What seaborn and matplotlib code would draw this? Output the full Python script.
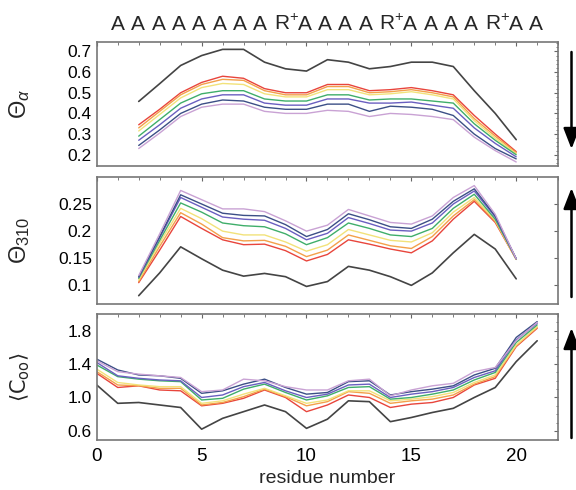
import numpy as np
import pandas as pd
import matplotlib
matplotlib.use('Agg')
import matplotlib.pyplot as plt
from matplotlib.ticker import MultipleLocator, NullLocator
from matplotlib.patches import FancyArrowPatch
import seaborn as sns

# residue positions
x_helix = list(range(2, 21))
x_coo = list(range(0, 22))

series_names = ['red', 'orange', 'yellow', 'green', 'purple', 'dkblue', 'plum', 'black']
palette = {'red': '#e8453c', 'orange': '#f3a04a', 'yellow': '#f2e27a', 'green': '#3fae6a',
           'purple': '#6a5fc0', 'dkblue': '#3c4f86', 'plum': '#c9a2d4', 'black': '#444444'}

# Theta alpha
alpha_red = [.345, .42, .50, .55, .58, .57, .52, .50, .50, .54, .54, .51, .515, .525, .51, .49, .39, .30, .215]
alpha_orange = [.33, .41, .49, .54, .565, .56, .51, .49, .49, .53, .53, .50, .505, .515, .50, .48, .375, .29, .21]
alpha_yellow = [.315, .395, .475, .525, .545, .54, .495, .48, .48, .515, .515, .49, .495, .505, .49, .47, .365, .28, .205]
alpha_green = [.29, .37, .45, .495, .51, .51, .47, .46, .46, .49, .49, .465, .47, .47, .46, .45, .35, .27, .20]
alpha_purple = [.27, .345, .425, .47, .49, .49, .45, .44, .44, .47, .47, .45, .45, .455, .44, .425, .33, .255, .19]
alpha_dkblue = [.245, .32, .40, .445, .465, .46, .43, .42, .42, .445, .445, .41, .435, .43, .42, .39, .30, .23, .18]
alpha_plum = [.23, .305, .385, .43, .445, .445, .41, .40, .40, .415, .41, .385, .40, .395, .385, .37, .285, .22, .165]
alpha_black = [.458, .544, .632, .68, .71, .71, .648, .616, .605, .66, .648, .616, .627, .648, .648, .627, .51, .40, .273]

# Theta 3_10
t310_red = [.105, .165, .227, .205, .184, .175, .176, .164, .145, .157, .184, .176, .167, .160, .182, .222, .255, .216, .148]
t310_orange = [.107, .172, .234, .213, .188, .182, .183, .172, .153, .165, .193, .183, .173, .168, .190, .228, .258, .218, .148]
t310_yellow = [.110, .178, .242, .223, .200, .193, .193, .180, .163, .175, .203, .193, .183, .180, .197, .235, .262, .220, .148]
t310_green = [.113, .183, .252, .235, .215, .210, .208, .195, .175, .188, .215, .205, .193, .190, .205, .242, .268, .222, .149]
t310_purple = [.115, .188, .262, .244, .226, .222, .220, .205, .184, .196, .225, .214, .202, .200, .215, .250, .274, .226, .149]
t310_dkblue = [.116, .190, .267, .250, .233, .229, .228, .212, .190, .203, .232, .221, .208, .205, .222, .255, .278, .228, .149]
t310_plum = [.118, .195, .275, .258, .241, .241, .236, .219, .200, .211, .240, .228, .216, .213, .228, .262, .284, .231, .149]
t310_black = [.081, .123, .171, .149, .128, .117, .122, .116, .098, .107, .135, .128, .116, .100, .123, .160, .194, .167, .112]

# <C_oo>
coo_red = [1.29, 1.12, 1.14, 1.09, 1.08, .90, .93, .99, 1.09, 1.00, .83, .91, 1.03, 1.00, .88, .92, .94, 1.00, 1.15, 1.23, 1.61, 1.83]
coo_orange = [1.31, 1.15, 1.14, 1.11, 1.11, .91, .94, 1.01, 1.10, 1.01, .90, .95, 1.07, 1.05, .93, .96, .98, 1.03, 1.16, 1.25, 1.62, 1.84]
coo_yellow = [1.34, 1.18, 1.15, 1.13, 1.13, .93, .96, 1.04, 1.11, 1.02, .93, .97, 1.08, 1.08, .96, .98, 1.01, 1.06, 1.18, 1.27, 1.63, 1.85]
coo_green = [1.39, 1.25, 1.22, 1.20, 1.19, .97, .99, 1.10, 1.16, 1.06, .97, 1.02, 1.12, 1.13, .98, 1.00, 1.04, 1.09, 1.21, 1.30, 1.66, 1.87]
coo_purple = [1.42, 1.26, 1.23, 1.21, 1.20, 1.00, 1.03, 1.13, 1.18, 1.08, 1.00, 1.04, 1.15, 1.16, 1.00, 1.04, 1.07, 1.12, 1.24, 1.32, 1.69, 1.89]
coo_dkblue = [1.46, 1.33, 1.27, 1.26, 1.23, 1.05, 1.08, 1.16, 1.22, 1.12, 1.04, 1.06, 1.19, 1.20, 1.03, 1.07, 1.10, 1.14, 1.27, 1.35, 1.72, 1.91]
coo_plum = [1.44, 1.31, 1.28, 1.26, 1.24, 1.07, 1.09, 1.22, 1.20, 1.13, 1.09, 1.09, 1.20, 1.22, 1.02, 1.09, 1.14, 1.17, 1.31, 1.36, 1.68, 1.90]
coo_black = [1.15, .93, .94, .91, .88, .62, .75, .83, .91, .83, .63, .74, .96, .95, .71, .76, .82, .87, 1.00, 1.12, 1.43, 1.68]

# peptide sequence written above the panels
sequence = ['A'] * 8 + ['R+'] + ['A'] * 4 + ['R+'] + ['A'] * 4 + ['R+'] + ['A'] * 2


def to_long(x, columns):
    frames = []
    for name, vals in zip(series_names, columns):
        frames.append(pd.DataFrame({'residue': x, 'value': vals, 'series': name}))
    return pd.concat(frames, ignore_index=True)


df_alpha = to_long(x_helix, [alpha_red, alpha_orange, alpha_yellow, alpha_green,
                             alpha_purple, alpha_dkblue, alpha_plum, alpha_black])
df_310 = to_long(x_helix, [t310_red, t310_orange, t310_yellow, t310_green,
                           t310_purple, t310_dkblue, t310_plum, t310_black])
df_coo = to_long(x_coo, [coo_red, coo_orange, coo_yellow, coo_green,
                         coo_purple, coo_dkblue, coo_plum, coo_black])

sns.set_theme(style='white')
plt.rcParams['font.family'] = ['Liberation Sans', 'DejaVu Sans']
plt.rcParams['mathtext.fontset'] = 'custom'
plt.rcParams['mathtext.rm'] = 'Liberation Sans'
plt.rcParams['mathtext.it'] = 'Liberation Sans:italic'

fig = plt.figure(figsize=(5.76, 4.90), dpi=100)
left, width = 0.168, 0.801
ax1 = fig.add_axes([left, 0.661, width, 0.253])
ax2 = fig.add_axes([left, 0.380, width, 0.259])
ax3 = fig.add_axes([left, 0.102, width, 0.257])

panels = [
    (ax1, df_alpha, (0.145, 0.745), [0.2, 0.3, 0.4, 0.5, 0.6, 0.7], r'$\Theta_{\alpha}$', 0.02),
    (ax2, df_310, (0.066, 0.300), [0.1, 0.15, 0.2, 0.25], r'$\Theta_{310}$', None),
    (ax3, df_coo, (0.49, 2.0), [0.6, 1.0, 1.4, 1.8], r'$\langle \mathrm{C}_{\mathrm{oo}} \rangle$', 0.1),
]

for ax, df, ylim, yticks, ylabel, yminor in panels:
    sns.lineplot(data=df, x='residue', y='value', hue='series', palette=palette,
                 hue_order=series_names, linewidth=1.0, legend=False, ax=ax)
    for line in ax.lines:
        if matplotlib.colors.to_hex(line.get_color()) == palette['black']:
            line.set_linewidth(1.2)
    ax.set_xlim(0, 22)
    ax.set_ylim(*ylim)
    ax.set_yticks(yticks)
    ax.set_yticklabels([f'{t:g}' if ax is not ax3 else f'{t:.1f}' for t in yticks])
    if yminor:
        ax.yaxis.set_minor_locator(MultipleLocator(yminor))
    else:
        ax.yaxis.set_minor_locator(NullLocator())
    ax.xaxis.set_major_locator(MultipleLocator(5))
    ax.xaxis.set_minor_locator(MultipleLocator(1))
    ax.tick_params(axis='both', which='both', direction='in', top=True, right=True,
                   colors='#666666', labelcolor='black', labelsize=12.5)
    ax.tick_params(which='major', length=3, width=0.8)
    ax.tick_params(which='minor', length=1.8, width=0.6)
    if ax is ax3:
        ax.set_ylabel(ylabel, fontsize=15, math_fontfamily='dejavusans')
    else:
        ax.set_ylabel(ylabel, fontsize=17)
    ax.set_xlabel('')
    for sp in ax.spines.values():
        sp.set_color('#777777')
        sp.set_linewidth(1.2)

ax1.tick_params(labelbottom=False)
ax2.tick_params(labelbottom=False)
ax3.set_xlabel('residue number', fontsize=14, labelpad=3)
ax3.tick_params(axis='x', pad=6, labelsize=13.5)

for a in (ax1, ax2, ax3):
    a.yaxis.set_label_coords(-0.14, 0.5)

n_r = 0
for i, res in enumerate(sequence):
    xpix = 118 + 20.3 * i + 4 * n_r
    if res == 'R+':
        fig.text((xpix + 6) / 576, 1 - 24 / 490, r'R$^{+}$', ha='center', va='center', fontsize=15)
        n_r += 1
    else:
        fig.text(xpix / 576, 1 - 24 / 490, res, ha='center', va='center', fontsize=15)

# direction arrows on the right
arrow_kw = dict(arrowstyle='-|>,head_length=0.9,head_width=0.35', mutation_scale=14,
                color='black', lw=1.8, shrinkA=0, shrinkB=0, transform=fig.transFigure)
ax_x = 571.5 / 576
for y0, y1 in [(52, 149), (297, 188), (438, 328)]:
    fig.add_artist(FancyArrowPatch((ax_x, 1 - y0 / 490), (ax_x, 1 - y1 / 490), **arrow_kw))

fig.savefig('out.png', dpi=100)
